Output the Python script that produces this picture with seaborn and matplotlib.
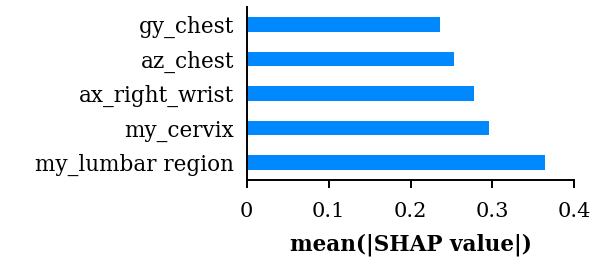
import pandas as pd
import matplotlib.pyplot as plt
import seaborn as sns

features = ['gy_chest', 'az_chest', 'ax_right_wrist', 'my_cervix', 'my_lumbar region']
shap_values = [0.2357, 0.2535, 0.2775, 0.2963, 0.3642]
x_ticks = [0, 0.1, 0.2, 0.3, 0.4]

df = pd.DataFrame({'feature': features, 'value': shap_values})

sns.set_style('white')
plt.rcParams['font.family'] = ['DejaVu Serif']
plt.rcParams['text.color'] = 'black'
plt.rcParams['xtick.color'] = 'black'
plt.rcParams['ytick.color'] = 'black'
plt.rcParams['axes.labelcolor'] = 'black'

fig = plt.figure(figsize=(6.01, 2.75), dpi=100)
ax = fig.add_axes([0.4105, 0.3455, 0.5451, 0.629])

sns.barplot(data=df, x='value', y='feature', orient='h', color='#0088ff',
            saturation=1, width=0.42, linewidth=0, ax=ax)

ax.set_xlim(0, 0.4)
ax.set_ylim(4.5, -0.5)
ax.set_xticks(x_ticks)
ax.set_xticklabels(['0', '0.1', '0.2', '0.3', '0.4'])
ax.tick_params(axis='x', direction='out', length=6, width=1.4, labelsize=15, pad=10, bottom=True)
ax.tick_params(axis='y', length=0, labelsize=15.5, pad=9)
ax.set_ylabel('')
ax.set_xlabel('mean(|SHAP value|)', fontsize=15.5, fontweight='bold', labelpad=9)

sns.despine(ax=ax)
for s in ['left', 'bottom']:
    ax.spines[s].set_linewidth(1.4)
    ax.spines[s].set_color('black')

fig.savefig('out.png', dpi=100)
